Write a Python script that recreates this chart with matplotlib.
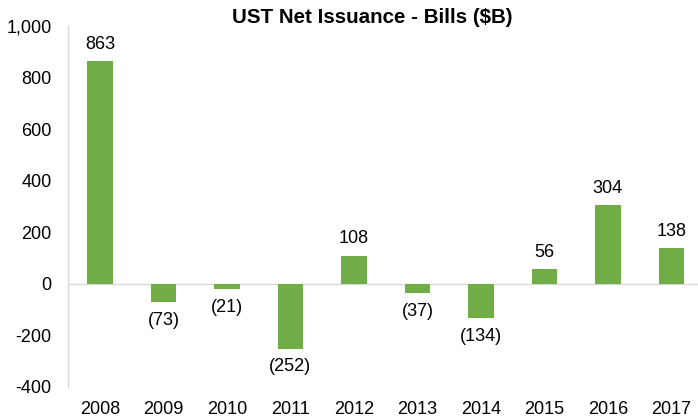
import matplotlib
matplotlib.use("Agg")
import matplotlib.pyplot as plt

years = ["2008", "2009", "2010", "2011", "2012", "2013", "2014", "2015", "2016", "2017"]
values = [863, -73, -21, -252, 108, -37, -134, 56, 304, 138]
yticks = [-400, -200, 0, 200, 400, 600, 800, 1000]

plt.rcParams['font.family'] = ['Liberation Sans', 'DejaVu Sans']

fig = plt.figure(figsize=(6.98, 4.19), dpi=100)
ax = fig.add_axes([0.0981, 0.0771, 0.9019, 0.8609])

x = list(range(len(years)))
ax.bar(x, values, width=0.4, color="#70AD47", zorder=3)
ax.axhline(0, color="#D9D9D9", lw=1.0, zorder=2)

for xi, v in zip(x, values):
    if v >= 0:
        ax.annotate(f"{v:,}", (xi, v), xytext=(0, 6), textcoords="offset points",
                    ha="center", va="bottom", fontsize=13, color="#000000")
    else:
        ax.annotate(f"({-v:,})", (xi, v), xytext=(0, -7), textcoords="offset points",
                    ha="center", va="top", fontsize=13, color="#000000")

ax.set_ylim(-400, 1000)
ax.set_xlim(-0.496, 9.42)
ax.set_yticks(yticks)
ax.set_yticklabels([f"{t:,}" for t in yticks], fontsize=13, color="#000000")
ax.set_xticks(x)
ax.set_xticklabels(years, fontsize=13, color="#000000")
ax.tick_params(axis="y", length=0, pad=12)
ax.tick_params(axis="x", length=0, pad=10)

for s in ["top", "right", "bottom"]:
    ax.spines[s].set_visible(False)
ax.spines["left"].set_color("#D9D9D9")
ax.spines["left"].set_linewidth(1.0)

fig.text(0.533, 0.982, "UST Net Issuance - Bills ($B)", ha="center", va="top",
         fontsize=14.8, fontweight="bold", color="#000000")

fig.savefig("out.png", dpi=100)
